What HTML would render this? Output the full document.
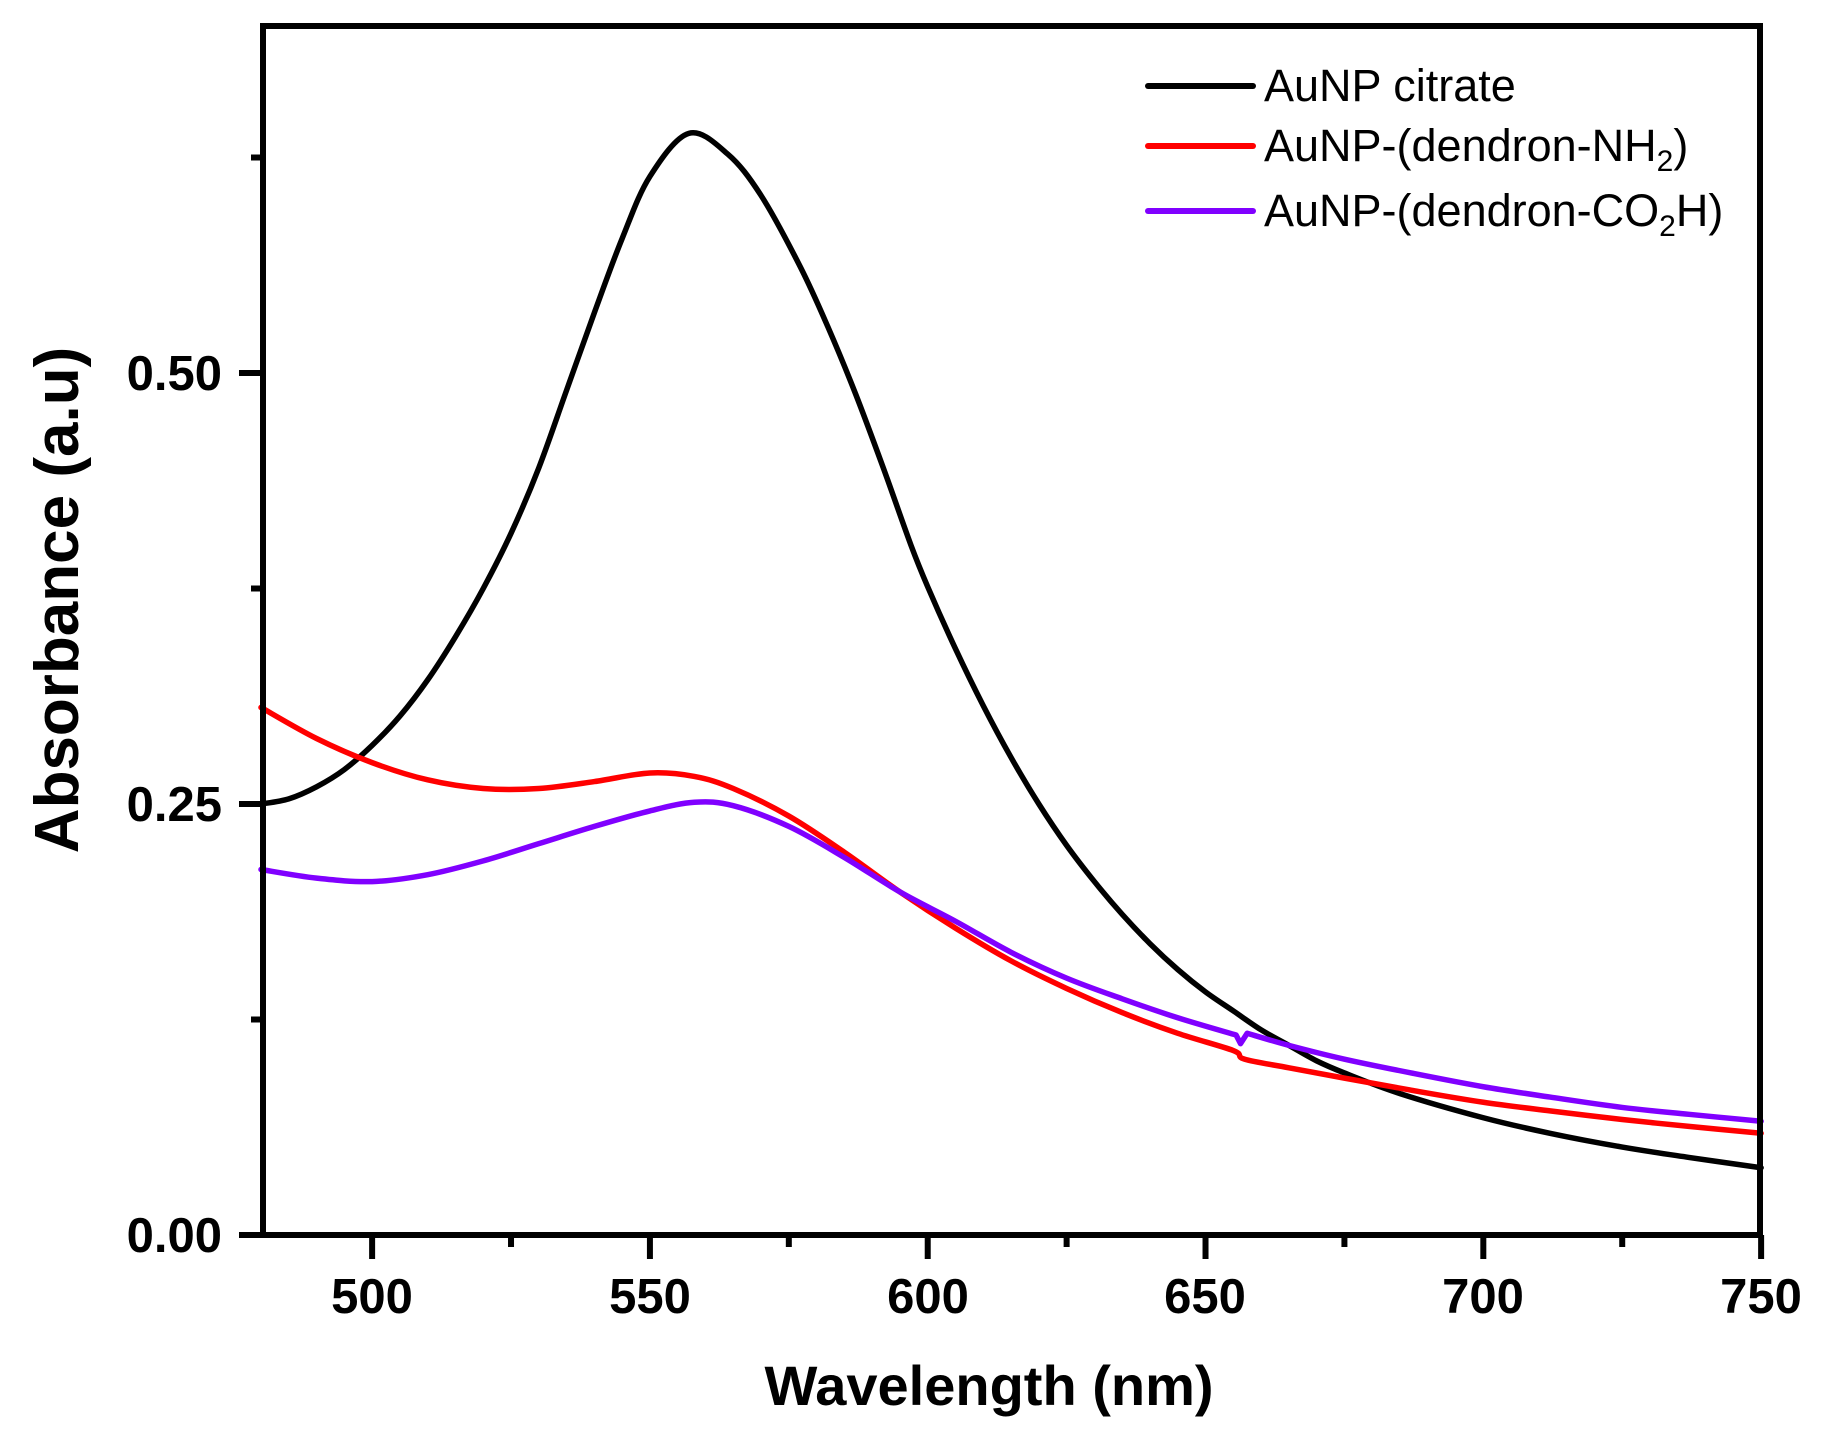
<!DOCTYPE html>
<html><head><meta charset="utf-8"><style>
html,body{margin:0;padding:0;background:#fff;}
svg{display:block;}
text{font-family:"Liberation Sans",Arial,sans-serif;}
</style></head><body>
<svg id="s" width="1826" height="1444" viewBox="0 0 1826 1444" xmlns="http://www.w3.org/2000/svg">
<g id="curves" fill="none" stroke-width="5.5" stroke-linejoin="round" stroke-linecap="round"></g>
<g stroke="#000" stroke-width="6" fill="none">
<rect x="263" y="26" width="1497" height="1209"/>
</g>
<g id="ticks" stroke="#000" stroke-width="6"></g>
<g font-weight="bold" font-size="49" fill="#000" text-anchor="middle">
<text x="372" y="1313">500</text>
<text x="650" y="1313">550</text>
<text x="928" y="1313">600</text>
<text x="1205" y="1313">650</text>
<text x="1483" y="1313">700</text>
<text x="1761" y="1313">750</text>
</g>
<g font-weight="bold" font-size="49" fill="#000" text-anchor="end">
<text x="222" y="1252">0.00</text>
<text x="222" y="821">0.25</text>
<text x="222" y="390">0.50</text>
</g>
<text x="989" y="1405" font-weight="bold" font-size="56" text-anchor="middle">Wavelength (nm)</text>
<text transform="translate(78,600) rotate(-90)" font-weight="bold" font-size="62" text-anchor="middle">Absorbance (a.u)</text>
<g stroke-width="6" stroke-linecap="round">
<line x1="1148" y1="86" x2="1253" y2="86" stroke="#000"/>
<line x1="1148" y1="146" x2="1253" y2="146" stroke="#ff0000"/>
<line x1="1148" y1="211" x2="1253" y2="211" stroke="#8000ff"/>
</g>
<g font-size="45" fill="#000">
<text x="1264" y="101">AuNP citrate</text>
<text x="1264" y="161">AuNP-(dendron-NH<tspan font-size="30" dy="10">2</tspan><tspan dy="-10">)</tspan></text>
<text x="1264" y="226">AuNP-(dendron-CO<tspan font-size="30" dy="10">2</tspan><tspan dy="-10">H)</tspan></text>
</g>
</svg>
<script>
var X=function(x){return 261+(x-480)*5.556;}, Y=function(a){return 1235-a*1724;};
var t='';
for(var v=500;v<=750;v+=50)t+='<line x1="'+X(v)+'" y1="1235" x2="'+X(v)+'" y2="1259"/>';
for(var v=525;v<750;v+=50)t+='<line x1="'+X(v)+'" y1="1235" x2="'+X(v)+'" y2="1247"/>';
for(var a=0;a<=0.5;a+=0.25)t+='<line x1="239" y1="'+Y(a)+'" x2="263" y2="'+Y(a)+'"/>';
[0.125,0.375,0.625].forEach(function(a){t+='<line x1="251" y1="'+Y(a)+'" x2="263" y2="'+Y(a)+'"/>';});
document.getElementById('ticks').innerHTML=t;
function path(d,cont){
 var p=d.map(function(q){return [X(q[0]),Y(q[1])];});
 var s=(cont?'L':'M')+p[0][0]+','+p[0][1];
 for(var i=0;i<p.length-1;i++){
  var p0=p[i>0?i-1:i],p1=p[i],p2=p[i+1],p3=p[i+2<p.length?i+2:i+1];
  var c1x=p1[0]+(p2[0]-p0[0])/6,c1y=p1[1]+(p2[1]-p0[1])/6;
  var c2x=p2[0]-(p3[0]-p1[0])/6,c2y=p2[1]-(p3[1]-p1[1])/6;
  s+=' C'+c1x+','+c1y+' '+c2x+','+c2y+' '+p2[0]+','+p2[1];
 }
 return s;
}
var black=[[480,.25],[485,.253],[490,.26],[495,.27],[500,.284],[505,.301],[510,.322],[515,.347],[520,.375],[525,.407],[530,.445],[535,.49],[540,.535],[545,.578],[550,.614],[557,.639],[564,.627],[570,.603],[577,.562],[582,.527],[587,.488],[592,.445],[597,.40],[600,.376],[605,.340],[610,.307],[615,.277],[620,.25],[625,.226],[630,.205],[635,.186],[640,.169],[645,.154],[650,.141],[655,.13],[660,.119],[665,.11],[670,.101],[675,.094],[685,.082],[700,.068],[712,.059],[725,.051],[737,.045],[750,.039]];
var red=[[480,.306],[490,.288],[500,.274],[510,.264],[520,.259],[530,.259],[540,.263],[550,.268],[558,.266],[565,.259],[575,.243],[585,.222],[595,.199],[605,.178],[615,.159],[625,.143],[635,.129],[645,.117],[655,.107],[657,.102],[665,.097],[675,.091],[687,.084],[700,.077],[712,.072],[725,.067],[737,.063],[750,.059]];
var pur1=[[480,.212],[490,.207],[500,.205],[510,.209],[520,.217],[530,.227],[540,.237],[550,.246],[558,.251],[565,.249],[575,.237],[585,.219],[595,.199],[605,.182],[615,.164],[625,.149],[635,.137],[645,.126],[655.5,.116]];
var pur2=[[657.5,.117],[665,.11],[675,.102],[687,.094],[700,.086],[712,.08],[725,.074],[737,.07],[750,.066]];
document.getElementById('curves').innerHTML=
 '<path d="'+path(black)+'" stroke="#000"/>'+
 '<path d="'+path(red)+'" stroke="#ff0000"/>'+
 '<path d="'+path(pur1)+' L'+X(656.3)+','+Y(.111)+' '+path(pur2,true)+'" stroke="#8000ff"/>';
</script>
</body></html>
